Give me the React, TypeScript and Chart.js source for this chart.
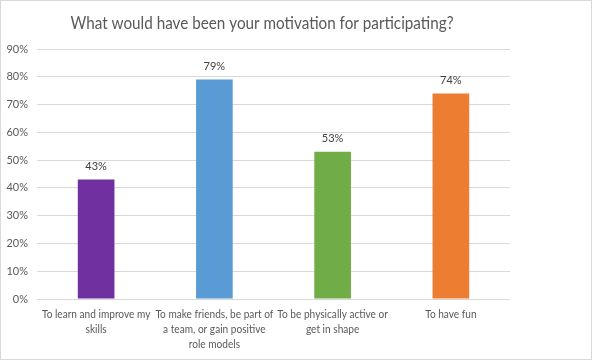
import React, { useEffect, useRef } from "react";
import { Chart, registerables } from "chart.js";

Chart.register(...registerables);

const title = "What would have been your motivation for participating?";
const categories: string[][] = [
  ["To learn and improve my", "skills"],
  ["To make friends, be part of", "a team, or gain positive", "role models"],
  ["To be physically active or", "get in shape"],
  ["To have fun"],
];
const values = [43, 79, 53, 74];
const barColors = ["#7030A0", "#5B9BD5", "#70AD47", "#ED7D31"];
const yMax = 90;
const yStep = 10;

const FONT = "Lato, 'Open Sans', sans-serif";

function drawSquished(ctx: any, text: string, x: number, y: number, sx: number) {
  ctx.save();
  ctx.translate(x, y);
  ctx.scale(sx, 1);
  ctx.fillText(text, 0, 0);
  ctx.restore();
}

const decorPlugin = {
  id: "decor",
  beforeDraw(chart: any) {
    const ctx = chart.ctx;
    ctx.save();
    ctx.fillStyle = "#ffffff";
    ctx.fillRect(0, 0, chart.width, chart.height);
    ctx.strokeStyle = "#d9d9d9";
    ctx.lineWidth = 1;
    ctx.strokeRect(0.5, 0.5, chart.width - 1, chart.height - 1);
    ctx.fillStyle = "#595959";
    ctx.font = `18px ${FONT}`;
    ctx.textAlign = "center";
    ctx.textBaseline = "middle";
    const w = ctx.measureText(title).width;
    drawSquished(ctx, title, 262, 23, 383 / w);
    // category labels
    ctx.font = `11px ${FONT}`;
    const ref = ctx.measureText("To make friends, be part of").width;
    const sx = Math.min(1, 118 / ref);
    const xs = chart.scales.x;
    categories.forEach((lines, i) => {
      const cx = xs.getPixelForTick(i);
      lines.forEach((ln, j) => {
        drawSquished(ctx, ln, cx, 314 + j * 15, sx);
      });
    });
    ctx.restore();
  },
  afterDatasetsDraw(chart: any) {
    const ctx = chart.ctx;
    const meta = chart.getDatasetMeta(0);
    ctx.save();
    ctx.fillStyle = "#404040";
    ctx.font = `11px ${FONT}`;
    ctx.textAlign = "center";
    ctx.textBaseline = "middle";
    meta.data.forEach((bar: any, i: number) => {
      ctx.fillText(values[i] + "%", bar.x, bar.y - 13);
    });
    ctx.restore();
  },
};

export default function App() {
  const ref = useRef<HTMLCanvasElement | null>(null);
  useEffect(() => {
    document.body.style.margin = "0";
    const chart = new Chart(ref.current as HTMLCanvasElement, {
      type: "bar",
      data: {
        labels: categories,
        datasets: [
          {
            data: values,
            backgroundColor: barColors,
            barPercentage: 0.62,
            categoryPercentage: 0.5,
          },
        ],
      },
      options: {
        responsive: false,
        animation: false,
        layout: { padding: { top: 49, right: 82, left: 0, bottom: 0 } },
        plugins: {
          legend: { display: false },
          tooltip: { enabled: false },
          title: { display: false },
        },
        scales: {
          x: {
            grid: { display: false, drawTicks: false },
            border: { display: false },
            ticks: { display: false },
            afterFit(scale: any) {
              scale.height = 61;
            },
          },
          y: {
            min: 0,
            max: yMax,
            grid: { color: "#d9d9d9", drawTicks: false },
            border: { display: false },
            ticks: {
              stepSize: yStep,
              color: "#595959",
              font: { family: FONT, size: 11 },
              padding: 9,
              callback: (v: any) => v + "%",
            },
            afterFit(scale: any) {
              scale.width = 37;
            },
          },
        },
      },
      plugins: [decorPlugin],
    });
    return () => chart.destroy();
  }, []);
  return (
    <div style={{ width: 592, height: 360 }}>
      <canvas ref={ref} width={592} height={360} style={{ width: 592, height: 360, display: "block" }} />
    </div>
  );
}
